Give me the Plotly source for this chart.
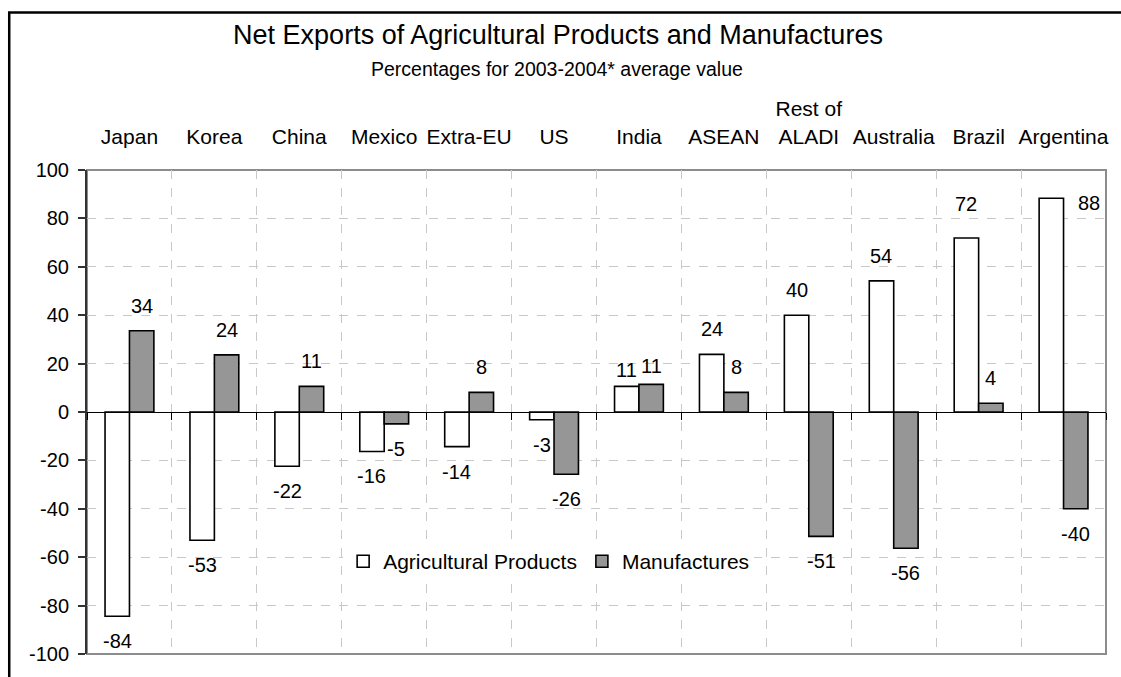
import plotly.graph_objects as go

# ---------------- data ----------------
categories = ["Japan", "Korea", "China", "Mexico", "Extra-EU", "US", "India",
              "ASEAN", "Rest of<br>ALADI", "Australia", "Brazil", "Argentina"]
agricultural = [-84.4, -53.0, -22.4, -16.3, -14.3, -3.2, 10.6, 23.8, 40.0, 54.2, 71.9, 88.3]
manufactures = [33.6, 23.6, 10.6, -4.9, 8.1, -25.7, 11.4, 8.1, -51.4, -56.3, 3.6, -40.0]
y_ticks = [-100, -80, -60, -40, -20, 0, 20, 40, 60, 80, 100]
y_tick_text = ["-100", "-80", "-60", "-40", "-20", "0", "20", "40", "60", "80", "100"]

title_text = "Net Exports of Agricultural Products and Manufactures"
subtitle_text = "Percentages for 2003-2004* average value"

# ---------------- layout constants ----------------
W, H = 1121, 677
ML, MR, MT, MB = 87, 12, 170, 15
BARGAP = 0.425
FONT = "Liberation Sans, Arial, sans-serif"

plot_w = W - ML - MR
plot_h = H - MT - MB
cat_w = plot_w / len(categories)
bar_off = cat_w * (1 - BARGAP) / 4  # pixel offset of each bar centre from the category centre

# label shifts (pixels): default 25 px beyond bar end; a few manual placements
label_override = {
    ("ag", 10): dict(yshift=34),
    ("ag", 11): dict(xshift=25, yshift=-5),
    ("ag", 6): dict(yshift=16),
    ("mf", 6): dict(yshift=18),
}

fig = go.Figure()
fig.add_trace(go.Bar(
    name="Agricultural Products", x=categories, y=agricultural,
    marker=dict(color="white", line=dict(color="black", width=1.6)),
    hoverinfo="x+y",
))
fig.add_trace(go.Bar(
    name="Manufactures", x=categories, y=manufactures,
    marker=dict(color="#969696", line=dict(color="black", width=1.6)),
    hoverinfo="x+y",
))
# helper trace so the zero-line axis (x2) is drawn
fig.add_trace(go.Scatter(x=[], y=[], xaxis="x2", yaxis="y", showlegend=False, hoverinfo="skip"))

annotations = []
for key, series, sign in (("ag", agricultural, -1), ("mf", manufactures, 1)):
    for i, (c, v) in enumerate(zip(categories, series)):
        xs = sign * bar_off
        ys = 25 if v >= 0 else -25
        ov = label_override.get((key, i), {})
        xs = ov.get("xshift", xs)
        ys = ov.get("yshift", ys)
        annotations.append(dict(
            x=c, y=v, xref="x", yref="y", text=f"{round(v):d}", showarrow=False,
            xshift=xs, yshift=ys, xanchor="center", yanchor="middle",
            font=dict(family=FONT, size=20, color="black"),
        ))

annotations.append(dict(
    text=subtitle_text, xref="paper", yref="paper",
    x=(558 - ML) / plot_w, y=(H - MB - 67) / plot_h,
    showarrow=False, xanchor="center", yanchor="middle",
    font=dict(family=FONT, size=19.5, color="black"),
))

shapes = [
    # plot area border
    dict(type="rect", xref="paper", yref="paper", x0=0, x1=1, y0=0, y1=1,
         line=dict(color="#8c8c8c", width=2), layer="below"),
    # outer chart frame
    dict(type="rect", xref="paper", yref="paper",
         x0=(9 - ML) / plot_w, x1=1.2, y0=-0.5, y1=(H - MB - 10) / plot_h,
         line=dict(color="black", width=2.5), layer="above"),
]

fig.update_layout(
    width=W, height=H,
    margin=dict(l=ML, r=MR, t=MT, b=MB, pad=0),
    paper_bgcolor="white", plot_bgcolor="white",
    barmode="group", bargap=BARGAP, bargroupgap=0,
    font=dict(family=FONT, size=20, color="black"),
    title=dict(text=title_text, x=558 / W, xref="container", xanchor="center",
               y=1 - 35 / H, yref="container", yanchor="middle",
               font=dict(family=FONT, size=27, color="black")),
    showlegend=True,
    legend=dict(orientation="h", x=(550 - ML) / plot_w, y=(H - MB - 568) / plot_h,
                xanchor="center", yanchor="middle", bgcolor="white",
                font=dict(family=FONT, size=21, color="black"),
                traceorder="normal"),
    xaxis=dict(type="category", side="top", tickson="boundaries", tickangle=0,
               showgrid=True, gridcolor="#c8c8c8", griddash="dash", gridwidth=1,
               ticks="", showline=False, zeroline=False,
               tickfont=dict(family=FONT, size=21, color="black"),
               ticklabelstandoff=21, fixedrange=True),
    xaxis2=dict(overlaying="x", anchor="free", position=0.5, side="bottom",
                range=[-0.5, len(categories) - 0.5],
                tickvals=[i - 0.5 for i in range(len(categories) + 1)],
                ticks="outside", ticklen=7, tickcolor="black", tickwidth=1,
                showticklabels=False, showline=True, linecolor="black", linewidth=1,
                showgrid=False, zeroline=False, fixedrange=True),
    yaxis=dict(range=[-100, 100], tickvals=y_ticks, ticktext=y_tick_text, showgrid=True,
               gridcolor="#c8c8c8", griddash="dash", gridwidth=1,
               zeroline=False, showline=True, linecolor="#333333", linewidth=2,
               ticks="outside", ticklen=7, tickcolor="#333333", tickwidth=1.5,
               tickfont=dict(family=FONT, size=20, color="black"),
               ticklabelstandoff=5, fixedrange=True),
    annotations=annotations,
    shapes=shapes,
)

fig.write_html("out.html")
